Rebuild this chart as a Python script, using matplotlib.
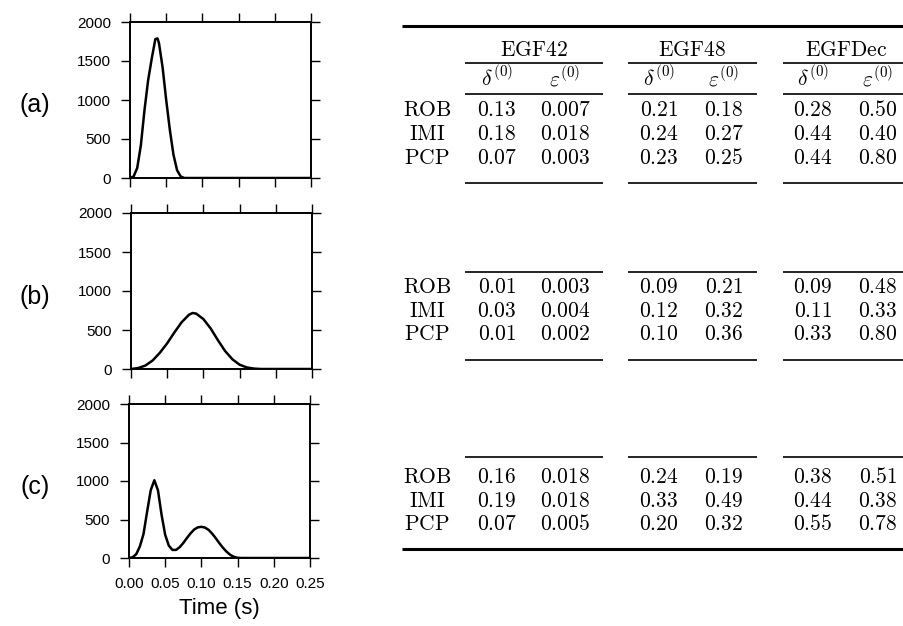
import matplotlib
matplotlib.use("Agg")
import matplotlib.pyplot as plt

# --- curves (time in s, amplitude) ---
t_a = [0.000, 0.005, 0.010, 0.015, 0.020, 0.025, 0.030, 0.035, 0.038, 0.040,
       0.045, 0.050, 0.055, 0.060, 0.065, 0.070, 0.075, 0.250]
y_a = [0, 20, 130, 420, 870, 1250, 1530, 1780, 1790, 1730,
       1420, 1000, 620, 300, 100, 20, 0, 0]

t_b = [0.000, 0.010, 0.020, 0.030, 0.040, 0.050, 0.060, 0.070, 0.080, 0.085,
       0.090, 0.100, 0.110, 0.120, 0.130, 0.140, 0.150, 0.160, 0.170, 0.180, 0.250]
y_b = [0, 12, 45, 110, 210, 330, 470, 600, 695, 718,
       710, 640, 520, 370, 230, 125, 55, 20, 5, 0, 0]

t_c = [0.000, 0.005, 0.010, 0.015, 0.020, 0.025, 0.030, 0.035, 0.040, 0.045,
       0.050, 0.055, 0.060, 0.065, 0.070, 0.075, 0.080, 0.085, 0.090, 0.095,
       0.100, 0.105, 0.110, 0.115, 0.120, 0.125, 0.130, 0.135, 0.140, 0.145,
       0.150, 0.155, 0.250]
y_c = [0, 10, 50, 150, 310, 600, 880, 1010, 880, 560,
       300, 160, 105, 105, 140, 195, 260, 320, 370, 398,
       405, 395, 365, 315, 255, 190, 130, 80, 40, 15,
       3, 0, 0]

panel_labels = ["(a)", "(b)", "(c)"]
xticks = [0.00, 0.05, 0.10, 0.15, 0.20, 0.25]
yticks = [0, 500, 1000, 1500, 2000]

# --- table values ---
groups = ["EGF42", "EGF48", "EGFDec"]
methods = ["ROB", "IMI", "PCP"]
# per block: rows = methods, cols = (delta, eps) for each group
block_a = [["0.13", "0.007", "0.21", "0.18", "0.28", "0.50"],
           ["0.18", "0.018", "0.24", "0.27", "0.44", "0.40"],
           ["0.07", "0.003", "0.23", "0.25", "0.44", "0.80"]]
block_b = [["0.01", "0.003", "0.09", "0.21", "0.09", "0.48"],
           ["0.03", "0.004", "0.12", "0.32", "0.11", "0.33"],
           ["0.01", "0.002", "0.10", "0.36", "0.33", "0.80"]]
block_c = [["0.16", "0.018", "0.24", "0.19", "0.38", "0.51"],
           ["0.19", "0.018", "0.33", "0.49", "0.44", "0.38"],
           ["0.07", "0.005", "0.20", "0.32", "0.55", "0.78"]]

plt.rcParams["font.family"] = ["Liberation Sans", "DejaVu Sans"]
plt.rcParams["mathtext.fontset"] = "cm"

W, H = 904, 626
fig = plt.figure(figsize=(W / 100, H / 100), dpi=100)

# overlay in pixel coordinates for the table
tab = fig.add_axes([0, 0, 1, 1])
tab.set_xlim(0, W)
tab.set_ylim(H, 0)
tab.axis("off")

# plot panels (pixel boxes: left, top, bottom)
boxes = [(130, 22, 178), (131, 213, 369), (129, 404, 558)]
label_y = [105, 297, 487]
curves = [(t_a, y_a), (t_b, y_b), (t_c, y_c)]
for i, ((l, top, bot), (t, y)) in enumerate(zip(boxes, curves)):
    ax = fig.add_axes([l / W, 1 - bot / H, 181 / W, (bot - top) / H])
    ax.plot(t, y, color="black", lw=1.8)
    ax.set_xlim(0, 0.25)
    ax.set_ylim(0, 2000)
    ax.set_xticks(xticks)
    ax.set_yticks(yticks)
    ax.tick_params(direction="out", length=6.5, width=1.0, labelsize=11,
                   top=True, right=True, pad=7)
    for s in ax.spines.values():
        s.set_linewidth(1.4)
    if i < 2:
        ax.set_xticklabels([])
    else:
        ax.set_xticklabels([f"{v:.2f}" for v in xticks])
        ax.set_xlabel("Time (s)", fontsize=16, labelpad=5)
    ax.patch.set_alpha(0)
    tab.text(35, label_y[i], panel_labels[i], fontsize=18, ha="center",
             va="center")

# --- table drawing ---
fs = 15.5
x_lab = 427
delta_x = [497, 659, 813]
eps_x = [565, 724, 878]
group_x = [534, 692, 846]
group_rules = [(465, 603), (628, 757), (783, 904)]

thick, thin = 2.2, 1.2
tab.hlines(26, 402, W, color="black", lw=thick)
for g, gx in zip(groups, group_x):
    tab.text(gx, 56, r"$\mathrm{%s}$" % g, fontsize=fs, ha="center",
             va="baseline")
for (x0, x1) in group_rules:
    tab.hlines(63, x0, x1, color="black", lw=thin)
    tab.hlines(94, x0, x1, color="black", lw=thin)
for dx, ex in zip(delta_x, eps_x):
    tab.text(dx, 86, r"$\delta^{(0)}$", fontsize=fs, ha="center", va="baseline")
    tab.text(ex, 86, r"$\varepsilon^{(0)}$", fontsize=fs, ha="center",
             va="baseline")

blocks = [(block_a, [116.5, 140, 163.5], None, 183),
          (block_b, [293.3, 316.7, 340], 272, 360),
          (block_c, [483.3, 506.7, 530], 457, None)]
for data, ys, rule_top, rule_bot in blocks:
    for m, yb, row in zip(methods, ys, data):
        tab.text(x_lab, yb, r"$\mathrm{%s}$" % m, fontsize=fs, ha="center",
                 va="baseline")
        for k in range(3):
            tab.text(delta_x[k], yb, r"$%s$" % row[2 * k], fontsize=fs,
                     ha="center", va="baseline")
            tab.text(eps_x[k], yb, r"$%s$" % row[2 * k + 1], fontsize=fs,
                     ha="center", va="baseline")
    for (x0, x1) in group_rules:
        if rule_top is not None:
            tab.hlines(rule_top, x0, x1, color="black", lw=thin)
        if rule_bot is not None:
            tab.hlines(rule_bot, x0, x1, color="black", lw=thin)
tab.hlines(549.3, 402, W, color="black", lw=thick)

fig.savefig("out.png", dpi=100)
plt.close(fig)
